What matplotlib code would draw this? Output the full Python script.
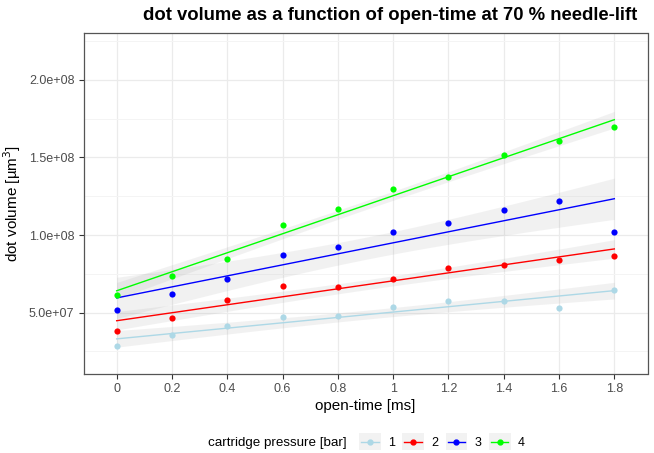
import numpy as np
import matplotlib
matplotlib.use("Agg")
import matplotlib.pyplot as plt
from matplotlib.lines import Line2D
from matplotlib.patches import Rectangle
from matplotlib.legend_handler import HandlerBase

plt.rcParams['font.family'] = ['Liberation Sans', 'DejaVu Sans']

open_time = [0.0, 0.2, 0.4, 0.6, 0.8, 1.0, 1.2, 1.4, 1.6, 1.8]
pressures = ['1', '2', '3', '4']
vol_p1 = [2.83e7, 3.54e7, 4.14e7, 4.70e7, 4.81e7, 5.35e7, 5.77e7, 5.75e7, 5.30e7, 6.48e7]
vol_p2 = [3.84e7, 4.64e7, 5.84e7, 6.74e7, 6.68e7, 7.19e7, 7.88e7, 8.10e7, 8.38e7, 8.66e7]
vol_p3 = [5.15e7, 6.19e7, 7.15e7, 8.70e7, 9.26e7, 1.019e8, 1.079e8, 1.163e8, 1.219e8, 1.021e8]
vol_p4 = [6.16e7, 7.37e7, 8.46e7, 1.068e8, 1.167e8, 1.296e8, 1.371e8, 1.519e8, 1.606e8, 1.696e8]
series = [vol_p1, vol_p2, vol_p3, vol_p4]
colors = ['#ADD8E6', '#FF0000', '#0000FF', '#00FF00']

y_ticks = [5.0e7, 1.0e8, 1.5e8, 2.0e8]
y_tick_labels = ['5.0e+07', '1.0e+08', '1.5e+08', '2.0e+08']
x_tick_labels = ['0', '0.2', '0.4', '0.6', '0.8', '1', '1.2', '1.4', '1.6', '1.8']

W, H = 654, 453
fig = plt.figure(figsize=(W / 100, H / 100), dpi=100)
L, R, T, B = 83.5, 647.5, 32.5, 374
ax = fig.add_axes([L / W, 1 - B / H, (R - L) / W, (B - T) / H])

x = np.array(open_time)
xs = np.linspace(x.min(), x.max(), 80)
t975 = 2.306  # t quantile, df = 8
for vals, c in zip(series, colors):
    y = np.array(vals)
    n = len(x)
    b, a = np.polyfit(x, y, 1)
    resid = y - (a + b * x)
    s = np.sqrt(np.sum(resid ** 2) / (n - 2))
    sxx = np.sum((x - x.mean()) ** 2)
    fit = a + b * xs
    se = s * np.sqrt(1 / n + (xs - x.mean()) ** 2 / sxx)
    ax.fill_between(xs, fit - t975 * se, fit + t975 * se, color='#999999', alpha=0.13, lw=0, zorder=2)
    ax.plot(xs, fit, color=c, lw=1.0, zorder=3)
    ax.scatter(x, y, s=20, color=c, zorder=4, linewidths=0)

ax.set_xlim(-0.12, 1.92)
ax.set_ylim(1.05e7, 2.305e8)
ax.set_xticks(open_time)
ax.set_xticklabels(x_tick_labels)
ax.set_yticks(y_ticks)
ax.set_yticklabels(y_tick_labels)
ax.set_yticks([2.5e7, 7.5e7, 1.25e8, 1.75e8, 2.25e8], minor=True)
ax.tick_params(axis='y', which='minor', length=0)
ax.tick_params(axis='both', which='major', length=3.5, width=0.8, color='#333333',
               labelcolor='#4D4D4D', labelsize=9, pad=3)
ax.grid(True, which='major', color='#EBEBEB', lw=0.9, zorder=0)
ax.grid(True, which='minor', axis='y', color='#F4F4F4', lw=0.7, zorder=0)
ax.set_axisbelow(True)
for sp in ax.spines.values():
    sp.set_color('#555555')
    sp.set_linewidth(0.9)

ax.set_xlabel('open-time [ms]', fontsize=11, labelpad=3)
ax.set_ylabel('dot volume [µm$^{3}$]', fontsize=11, labelpad=4)
fig.text(143 / W, 1 - 15 / H, 'dot volume as a function of open-time at 70 % needle-lift',
         fontsize=13.3, fontweight='bold', ha='left', va='center')


class KeyHandler(HandlerBase):
    def create_artists(self, legend, orig_handle, xdescent, ydescent, width, height, fontsize, trans):
        h = height * 2.0
        rect = Rectangle((-xdescent, -ydescent + height / 2 - h / 2), width, h,
                         facecolor='#F2F2F2', edgecolor='none', transform=trans)
        yc = -ydescent + height / 2
        ln = Line2D([-xdescent + width * 0.1, -xdescent + width * 0.9], [yc, yc],
                    color=orig_handle.get_color(), lw=1.0, transform=trans)
        mk = Line2D([-xdescent + width / 2], [yc], marker='o', markersize=3.5,
                    color=orig_handle.get_color(), lw=0, transform=trans)
        return [rect, ln, mk]


handles = [Line2D([], [], color=c) for c in colors]
fig.text(208 / W, 1 - 443 / H, 'cartridge pressure [bar]', fontsize=9.6, ha='left', va='center')
fig.legend(handles, pressures, loc='center left', bbox_to_anchor=(359 / W, 1 - 443 / H),
           ncol=4, frameon=False, fontsize=9, handlelength=1.75, handletextpad=0.55,
           columnspacing=0.6, borderpad=0, borderaxespad=0,
           handler_map={Line2D: KeyHandler()})

fig.savefig('out.png', dpi=100)
